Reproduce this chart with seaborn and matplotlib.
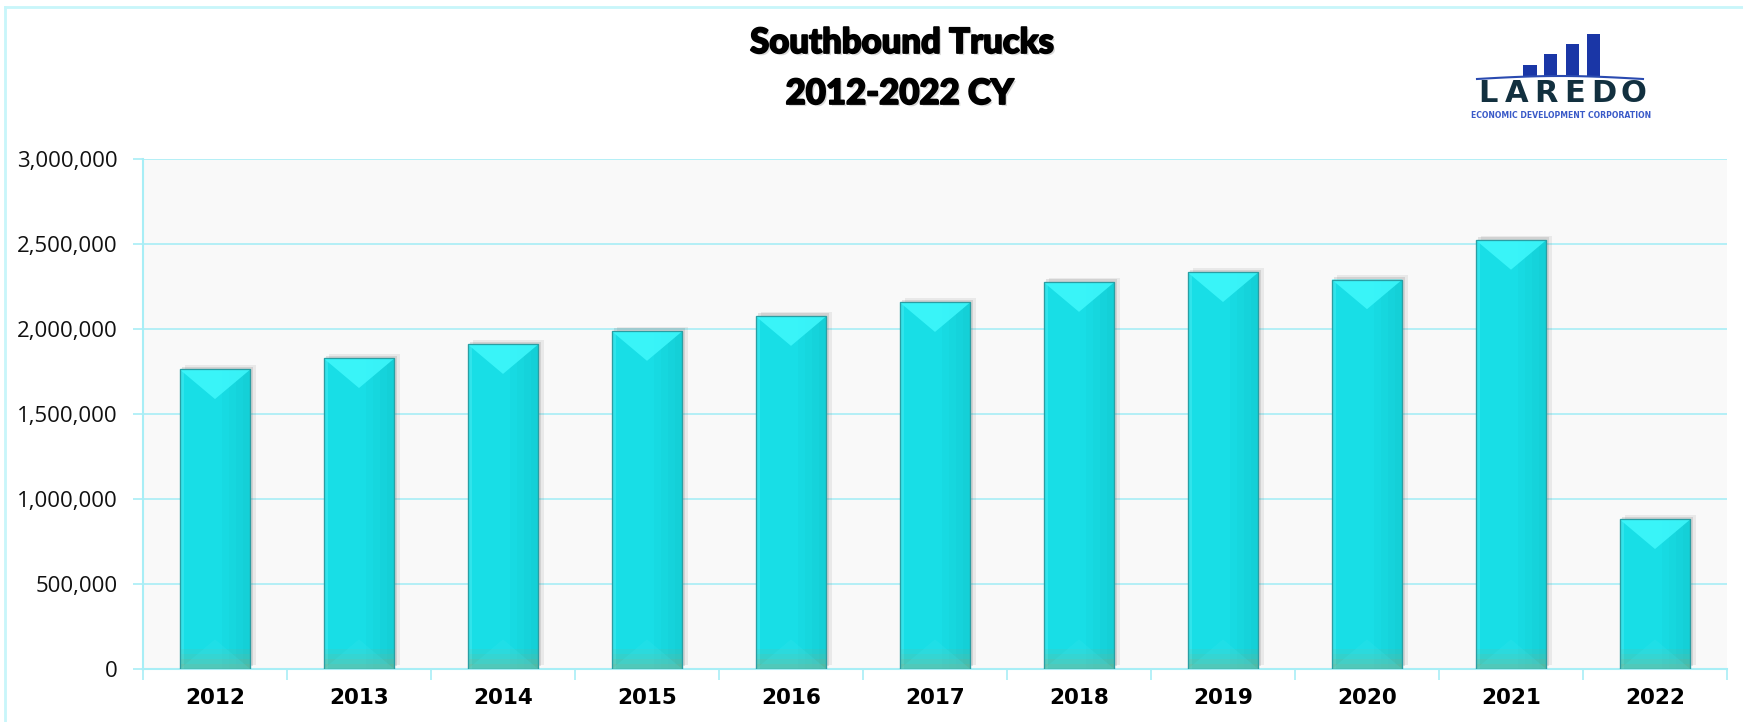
import pandas as pd
import numpy as np
import seaborn as sns
import matplotlib.pyplot as plt
import matplotlib.patheffects as pe
from matplotlib.patches import Polygon, Rectangle
from matplotlib.lines import Line2D
from matplotlib.ticker import FuncFormatter

# datos
years = ["2012", "2013", "2014", "2015", "2016", "2017", "2018", "2019", "2020", "2021", "2022"]
trucks = [1762000, 1827000, 1910000, 1987000, 2075000, 2157000, 2275000, 2333000, 2291000, 2523000, 880000]
y_ticks = [0, 500000, 1000000, 1500000, 2000000, 2500000, 3000000]

title_1 = "Southbound Trucks"
title_2 = "2012-2022 CY"

df = pd.DataFrame({"Year": years, "Trucks": trucks})

W, H = 1743, 722
cyan_line = "#a8eef6"


def fx(x):
    return x / W


def fy(y):
    return 1 - y / H


fig = plt.figure(figsize=(W / 100, H / 100), dpi=100)
ax = fig.add_axes([fx(143), fy(669), fx(1727) - fx(143), fy(159) - fy(669)])
ax.set_facecolor("#f9f9f9")

sns.barplot(data=df, x="Year", y="Trucks", color="#18dee6", saturation=1,
            width=0.49, edgecolor="#2fa6ab", linewidth=0.8, ax=ax, zorder=3)

ax.set_ylim(0, 3000000)
ax.set_xlim(-0.5, len(years) - 0.5)

# efecto biselado de las barras (a partir de los patches de seaborn)
x_px = ax.transData.transform((1, 0))[0] - ax.transData.transform((0, 0))[0]
y_px = ax.transData.transform((0, 1))[1] - ax.transData.transform((0, 0))[1]
for p in list(ax.patches):
    x0, w, h = p.get_x(), p.get_width(), p.get_height()
    d = 0.42 * w * x_px / y_px
    band = 5 / y_px
    p.set_path_effects([pe.SimplePatchShadow(offset=(4, 3), shadow_rgbFace="#777777", alpha=0.12),
                        pe.SimplePatchShadow(offset=(2, 2), shadow_rgbFace="#555555", alpha=0.15),
                        pe.Normal()])
    # sombreado lateral
    for i, a in enumerate([0.06, 0.11, 0.16, 0.22]):
        ax.add_patch(Rectangle((x0 + w * (0.6 + 0.1 * i), 0), w * 0.1, h,
                               color="#0a9fa6", alpha=a, lw=0, zorder=4))
    ax.add_patch(Rectangle((x0, 0), w * 0.06, h, color="#5ff0f5", alpha=0.35, lw=0, zorder=4))
    # banda inferior degradada
    for i, a in enumerate([0.45, 0.32, 0.2, 0.1]):
        ax.add_patch(Rectangle((x0, i * band), w, band, color="#a29e68", alpha=a, lw=0, zorder=4))
    ax.add_patch(Polygon([(x0, 0), (x0 + w, 0), (x0 + w / 2, d)], closed=True,
                         color="#40e8ee", alpha=0.2, lw=0, zorder=4))
    # triangulo superior
    ax.add_patch(Polygon([(x0, h), (x0 + w, h), (x0 + w / 2, h - d)], closed=True,
                         color="#3ff8fc", alpha=0.85, lw=0, zorder=5))
    ax.add_patch(Rectangle((x0, 0), w, h, fill=False, edgecolor="#2a9ea3", lw=0.9, zorder=6))

ax.set_yticks(y_ticks)
ax.yaxis.set_major_formatter(FuncFormatter(lambda v, _: f"{v:,.0f}"))
ax.set_xticks(range(len(years)))
ax.set_xticklabels(years, fontweight="bold", family="DejaVu Sans", fontsize=15.5)
ax.set_xticks(np.arange(-0.5, len(years), 1), minor=True)
ax.tick_params(axis="y", length=7, width=1.2, color=cyan_line, labelsize=16, pad=11,
               labelcolor="#111111")
ax.tick_params(axis="x", which="major", length=0, pad=14)
ax.tick_params(axis="x", which="minor", length=8, width=1.2, color=cyan_line)
for lbl in ax.get_yticklabels():
    lbl.set_family("Open Sans")

ax.yaxis.grid(True, color=cyan_line, lw=1.2)
ax.set_axisbelow(True)
for s in ["top", "right"]:
    ax.spines[s].set_visible(False)
for s in ["left", "bottom"]:
    ax.spines[s].set_color(cyan_line)
    ax.spines[s].set_linewidth(1.5)
ax.set_xlabel("")
ax.set_ylabel("")

# titulo con sombra suave
title_fx = [pe.SimplePatchShadow(offset=(1.5, -1.5), shadow_rgbFace="#999999", alpha=0.35),
            pe.withStroke(linewidth=1.3, foreground="black")]
fig.text(fx(902), fy(43), title_1, ha="center", va="center", fontsize=25,
         family="Lato", weight="black", path_effects=title_fx)
fig.text(fx(900), fy(94), title_2, ha="center", va="center", fontsize=25,
         family="Lato", weight="black", path_effects=title_fx)

# borde del grafico
fig.add_artist(Line2D([fx(5), 1], [fy(7), fy(7)], transform=fig.transFigure, color="#c8f6fa", lw=2))
fig.add_artist(Line2D([fx(5), fx(5)], [fy(7), 0], transform=fig.transFigure, color="#c8f6fa", lw=2))

# logo
for x1, x2, y1 in [(1523, 1537, 65), (1544, 1557, 54), (1566, 1579, 44), (1587, 1600, 34)]:
    fig.add_artist(Rectangle((fx(x1), fy(77)), fx(x2) - fx(x1), fy(y1) - fy(77),
                             transform=fig.transFigure, color="#1a36a6", lw=0))
sx = np.linspace(1477, 1643, 40)
sy = 79 - 3 * np.sin(np.pi * (sx - 1477) / 166)
fig.add_artist(Line2D([fx(v) for v in sx], [fy(v) for v in sy], transform=fig.transFigure,
                      color="#2a4ab0", lw=1.5))
for i, ch in enumerate("LAREDO"):
    fig.text(fx(1488 + 29 * i), fy(94), ch, ha="center", va="center", fontsize=22,
             family="DejaVu Sans", weight="bold", color="#12303f")
fig.text(fx(1561), fy(116), "ECONOMIC DEVELOPMENT CORPORATION", ha="center", va="center",
         fontsize=5.6, family="DejaVu Sans", weight="bold", color="#3a5ac8")

fig.savefig("out.png", dpi=100)
